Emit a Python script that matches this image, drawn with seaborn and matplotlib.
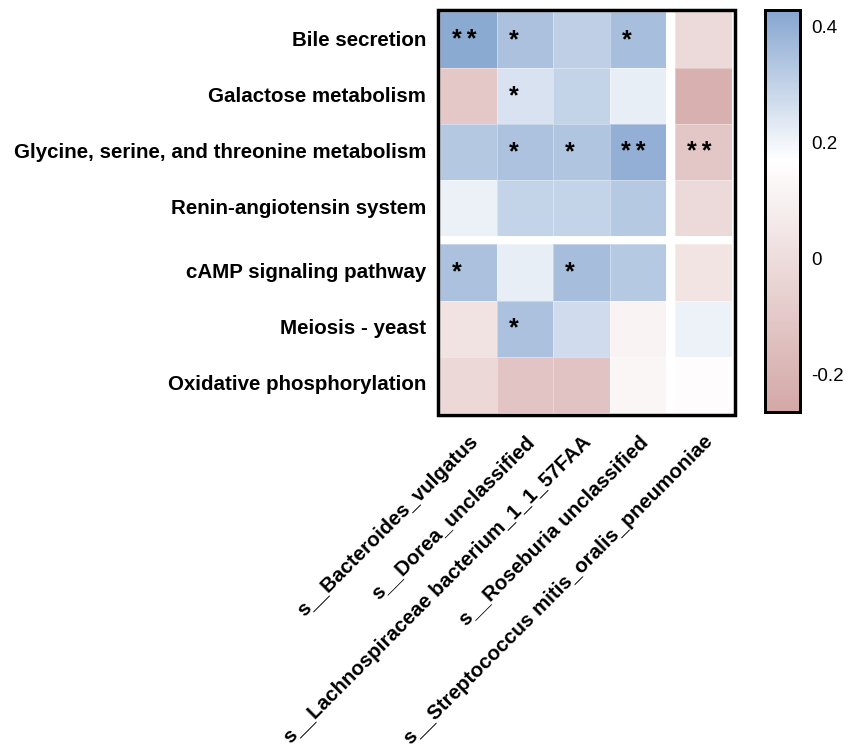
import numpy as np
import pandas as pd
import matplotlib
matplotlib.use("Agg")
import matplotlib.pyplot as plt
from matplotlib.colors import LinearSegmentedColormap
from matplotlib.patches import Rectangle
import seaborn as sns

sns.set_theme(style="white")
plt.rcParams['font.family'] = ['Liberation Sans', 'DejaVu Sans']

pathways = ["Bile secretion", "Galactose metabolism",
            "Glycine, serine, and threonine metabolism", "Renin-angiotensin system",
            "cAMP signaling pathway", "Meiosis - yeast", "Oxidative phosphorylation"]
species = ["s__Bacteroides_vulgatus", "s__Dorea_unclassified",
           "s__Lachnospiraceae bacterium_1_1_57FAA", "s__Roseburia unclassified",
           "s__Streptococcus mitis_oralis_pneumoniae"]

corr = [
    [0.415, 0.347, 0.306, 0.355, -0.015],
    [-0.105, 0.253, 0.298, 0.217, -0.225],
    [0.328, 0.345, 0.338, 0.400, -0.110],
    [0.210, 0.298, 0.298, 0.326, -0.015],
    [0.347, 0.219, 0.360, 0.326, 0.035],
    [0.030, 0.347, 0.270, 0.110, 0.208],
    [-0.025, -0.125, -0.130, 0.125, 0.155],
]
stars = [
    ["**", "*", "", "*", ""],
    ["", "*", "", "", ""],
    ["", "*", "*", "**", "**"],
    ["", "", "", "", ""],
    ["*", "", "*", "", ""],
    ["", "*", "", "", ""],
    ["", "", "", "", ""],
]
cbar_ticks = [-0.2, 0, 0.2, 0.4]
cbar_labels = ["-0.2", "0", "0.2", "0.4"]

df = pd.DataFrame(corr, index=pathways, columns=species)
ann = pd.DataFrame(stars, index=pathways, columns=species)

vmin, vmax, vwhite = -0.265, 0.428, 0.17
pos = (vwhite - vmin) / (vmax - vmin)
cmap = LinearSegmentedColormap.from_list(
    "rb", [(0, "#d3a8a7"), (pos, "#ffffff"), (1, "#86a6d0")])

W, H = 855, 748
fig = plt.figure(figsize=(W / 100, H / 100), dpi=100)

def box(x, y, w, h):
    return [x / W, 1 - (y + h) / H, w / W, h / H]

x0, y0 = 440, 12
cw, ch = 56.6, 56.1
gx, gy = 9, 8
row_split, col_split = 4, 4
nr, nc = len(pathways), len(species)

blocks = [
    (slice(0, row_split), slice(0, col_split), x0, y0),
    (slice(0, row_split), slice(col_split, nc), x0 + col_split * cw + gx, y0),
    (slice(row_split, nr), slice(0, col_split), x0, y0 + row_split * ch + gy),
    (slice(row_split, nr), slice(col_split, nc), x0 + col_split * cw + gx,
     y0 + row_split * ch + gy),
]
cax = fig.add_axes(box(765, 10, 35, 402))
for i, (rs, cs, bx, by) in enumerate(blocks):
    sub = df.iloc[rs, cs]
    sa = ann.iloc[rs, cs]
    ax = fig.add_axes(box(bx, by, sub.shape[1] * cw, sub.shape[0] * ch))
    sns.heatmap(sub, ax=ax, cmap=cmap, vmin=vmin, vmax=vmax, annot=sa, fmt="",
                annot_kws={"fontsize": 18, "color": "black", "fontweight": "bold"},
                cbar=(i == 0), cbar_ax=cax if i == 0 else None,
                linewidths=0.6, linecolor=(1, 1, 1, 0.35))
    for t in ax.texts:
        xx, yy = t.get_position()
        s = t.get_text()
        dx = -0.08 if s == "**" else -0.2
        t.set_text("\u2009".join(s))
        t.set_position((xx + dx, yy + 0.0))
    ax.tick_params(length=0)
    if bx == x0:
        ax.set_yticklabels(sub.index, rotation=0, fontsize=14.8, fontweight="bold",
                           color="black")
        ax.tick_params(axis="y", pad=10)
    else:
        ax.set_yticks([])
    if rs.start == row_split:
        ax.set_xticklabels(sub.columns, rotation=45, ha="right",
                           rotation_mode="anchor", fontsize=14.8,
                           fontweight="bold", color="black")
        ax.tick_params(axis="x", pad=14)
    else:
        ax.set_xticks([])
    ax.set_xlabel("")
    ax.set_ylabel("")

fig.patches.append(Rectangle((438 / W, 1 - 415 / H), 297 / W, 405 / H,
                             transform=fig.transFigure, fill=False,
                             edgecolor="black", linewidth=2.5, zorder=10))

cax.set_yticks(cbar_ticks)
cax.set_yticklabels(cbar_labels)
cax.tick_params(axis="y", which="both", direction="in", length=4, width=1.5,
                color="black", left=True, right=True, labelsize=13.5,
                labelcolor="black", pad=8)
for s in cax.spines.values():
    s.set_visible(True)
    s.set_linewidth(2)
    s.set_edgecolor("black")

fig.savefig("out.png", dpi=100)
